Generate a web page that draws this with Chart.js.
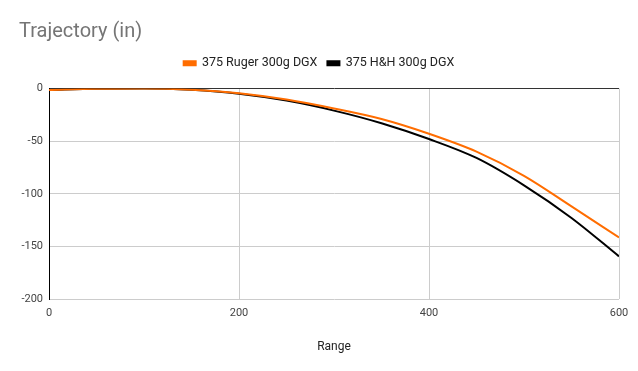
<!DOCTYPE html>
<html>
<head>
<meta charset="utf-8">
<script src="https://cdn.jsdelivr.net/npm/chart.js@4"></script>
<style>
  html, body { margin: 0; padding: 0; background: #fff; }
  #wrap { width: 638px; height: 371px; }
</style>
</head>
<body>
<div id="wrap"><canvas id="chart" width="638" height="371"></canvas></div>
<script>
// ranges (yards) and drop (in)
const ranges = [0, 50, 100, 150, 200, 250, 300, 350, 400, 450, 500, 550, 600];
const rugerDrop = [-1.5, -0.3, 0, -1.2, -4.5, -10.5, -19, -29, -43, -60, -83, -112, -141.5];
const hhDrop = [-1.5, -0.3, 0, -1.3, -5, -11.5, -21, -33, -48, -66, -92, -123, -159.5];
const seriesNames = ['375 Ruger 300g DGX', '375 H&H 300g DGX'];
const xTicks = [0, 200, 400, 600];
const yTicks = [0, -50, -100, -150, -200];

const FONT = 'Roboto, "Liberation Sans", Arial, sans-serif';

const toPts = (ys) => ranges.map((x, i) => ({ x: x, y: ys[i] }));

new Chart(document.getElementById('chart'), {
  type: 'line',
  data: {
    datasets: [
      { label: seriesNames[0], data: toPts(rugerDrop), borderColor: '#ff6d01', backgroundColor: '#ff6d01', borderWidth: 2 },
      { label: seriesNames[1], data: toPts(hhDrop), borderColor: '#000000', backgroundColor: '#000000', borderWidth: 2 }
    ]
  },
  options: {
    responsive: false,
    animation: false,
    layout: { padding: { top: 0, right: 19, bottom: 0, left: 19 } },
    elements: { point: { radius: 0 }, line: { cubicInterpolationMode: 'monotone' } },
    plugins: {
      title: {
        display: true, text: 'Trajectory (in)', align: 'start', color: '#757575',
        font: { family: FONT, size: 20, weight: 'normal' }, padding: { top: 20, bottom: 3 }
      },
      legend: {
        position: 'top',
        labels: { boxWidth: 12, boxHeight: 4, padding: 10, color: '#222', font: { family: FONT, size: 12.5 } }
      },
      // empty subtitle used as a gap between legend and plot
      subtitle: { display: true, text: '', weight: 500, font: { size: 1, lineHeight: 1 }, padding: { top: 8, bottom: 0 } },
      tooltip: { enabled: false }
    },
    scales: {
      x: {
        type: 'linear',
        min: 0, max: 600,
        afterBuildTicks: (s) => { s.ticks = xTicks.map(v => ({ value: v })); },
        afterFit: (s) => { s.height = 72; },
        ticks: { color: '#444', font: { family: FONT, size: 11 }, padding: 8, maxRotation: 0 },
        grid: { color: (c) => c.tick && c.tick.value === 0 ? '#000' : '#cccccc', drawTicks: false },
        border: { display: false },
        title: { display: true, text: 'Range', color: '#222', font: { family: FONT, size: 12 }, padding: { top: 0, bottom: 17 } }
      },
      y: {
        min: -200, max: 0,
        afterBuildTicks: (s) => { s.ticks = yTicks.map(v => ({ value: v })); },
        afterFit: (s) => { s.width = 30; },
        ticks: { color: '#444', font: { family: FONT, size: 11 }, padding: 6 },
        grid: { color: (c) => c.tick && c.tick.value === 0 ? '#333' : '#cccccc', drawTicks: false },
        border: { display: true, color: '#000' }
      }
    }
  }
});
</script>
</body>
</html>
